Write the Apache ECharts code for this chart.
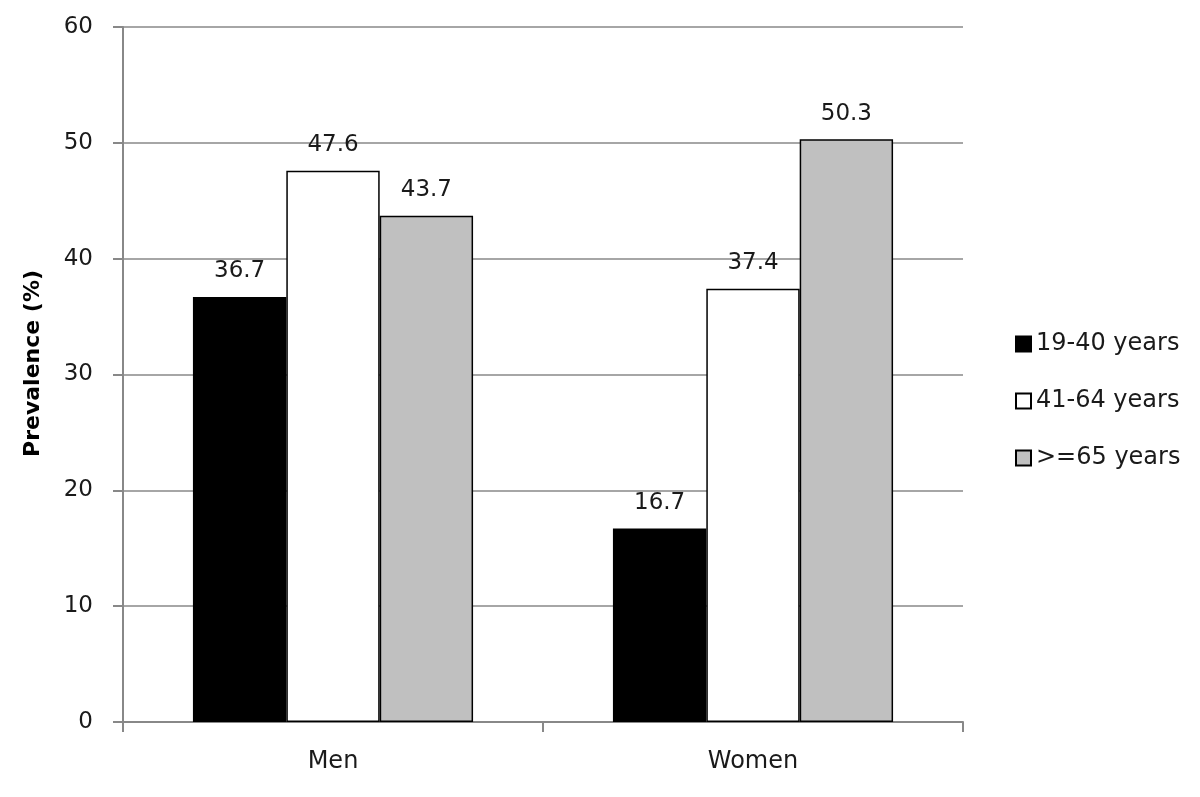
<!DOCTYPE html>
<html><head><meta charset="utf-8">
<script src="https://cdn.jsdelivr.net/npm/echarts@6/dist/echarts.min.js"></script>
<style>html,body{margin:0;padding:0;background:#fff}#c{width:1200px;height:797px}</style>
</head><body><div id="c"></div>
<script>
const categories = ['Men', 'Women'];
const seriesNames = ['19-40 years', '41-64 years', '>=65 years'];
const s1 = [36.7, 16.7];
const s2 = [47.6, 37.4];
const s3 = [43.7, 50.3];
const yTicks = [0, 10, 20, 30, 40, 50, 60];
const colors = ['#000000', '#ffffff', '#c0c0c0'];
const font = 'DejaVu Sans';
const fs = 23;
const chart = echarts.init(document.getElementById('c'));
function mk(name, data, color) {
  return {
    name: name, type: 'bar', data: data, barGap: '0%', barCategoryGap: '33.3%',
    itemStyle: { color: color, borderColor: '#000', borderWidth: 1.5 },
    label: { show: true, position: 'top', distance: 14, color: '#1a1a1a', fontFamily: font, fontSize: fs,
      formatter: p => p.value.toFixed(1) },
    emphasis: { disabled: true }
  };
}
chart.setOption({
  animation: false,
  backgroundColor: '#fff',
  textStyle: { fontFamily: font },
  grid: { left: 123, right: 237, top: 27, bottom: 75, containLabel: false },
  legend: {
    orient: 'vertical', left: 1010, top: 327, itemGap: 33, itemWidth: 15, itemHeight: 15,
    icon: 'rect',
    textStyle: { fontFamily: font, fontSize: fs, color: '#1a1a1a', fontSize: 24 },
    data: seriesNames
  },
  xAxis: {
    type: 'category', data: categories,
    axisLine: { lineStyle: { color: '#888', width: 2 } },
    axisTick: { show: true, length: 10, lineStyle: { color: '#888', width: 2 } },
    axisLabel: { fontFamily: font, fontSize: 24, color: '#1a1a1a', margin: 28 }
  },
  yAxis: {
    type: 'value', min: 0, max: 60, interval: 10,
    name: 'Prevalence (%)', nameLocation: 'middle', nameGap: 79,
    nameTextStyle: { fontFamily: font, fontSize: 22, fontWeight: 'bold', color: '#000', padding: [0, 0, 0, 22] },
    axisLine: { show: true, lineStyle: { color: '#888', width: 2 } },
    axisTick: { show: true, length: 10, lineStyle: { color: '#888', width: 2 } },
    splitLine: { lineStyle: { color: '#888', width: 1.5 } },
    axisLabel: { fontFamily: font, fontSize: fs, color: '#1a1a1a', margin: 30,
      formatter: v => yTicks.includes(v) ? String(v) : '' }
  },
  series: [mk(seriesNames[0], s1, colors[0]), mk(seriesNames[1], s2, colors[1]), mk(seriesNames[2], s3, colors[2])]
});
</script></body></html>
